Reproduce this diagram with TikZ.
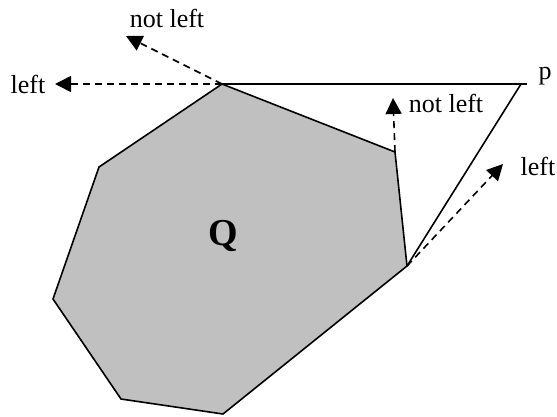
\documentclass[tikz,border=0pt]{standalone}
\usepackage{fontspec}
\setmainfont{Liberation Serif}
\usetikzlibrary{arrows.meta}
\definecolor{polygray}{RGB}{192,192,192}
\tikzset{
  edge/.style={line width=1.6pt, line join=miter},
  probe/.style={line width=1.6pt, dash pattern=on 7pt off 5pt, -{Triangle[length=16pt,width=16pt]}},
  lbl/.style={font=\fontsize{26}{30}\selectfont, inner sep=0pt}
}
\begin{document}
\begin{tikzpicture}[x=1pt,y=-1pt]
\useasboundingbox (0,0) rectangle (557,416);
% polygon vertices
\coordinate (v1) at (222,84);
\coordinate (v2) at (395,152);
\coordinate (v3) at (407,266);
\coordinate (v4) at (223,414);
\coordinate (v5) at (121,399);
\coordinate (v6) at (53,299);
\coordinate (v7) at (99,167);
\coordinate (p) at (521,84);
\coordinate (pend) at (527,84);
% arrow tips
\coordinate (t1) at (55,84);
\coordinate (t2) at (126,36);
\coordinate (t3) at (393,98);
\coordinate (t4) at (503,164);
\fill[polygray] (v1) -- (v2) -- (v3) -- (v4) -- (v5) -- (v6) -- (v7) -- cycle;
\draw[edge] (v1) -- (v2) -- (v3) -- (v4) -- (v5) -- (v6) -- (v7) -- cycle;
\draw[edge] (v1) -- (pend);
\draw[edge] (p) -- (v3);
\draw[probe] (v1) -- (t1);
\draw[probe] (v1) -- (t2);
\draw[probe] (v2) -- (t3);
\draw[probe] (v3) -- (t4);
\node[lbl] (q) at (223,236) {\fontsize{38}{44}\selectfont\bfseries Q};
\node[lbl] (lp) at (545,76) {p};
\node[lbl] (l1) at (28,84) {left};
\node[lbl] (l2) at (167,18) {not left};
\node[lbl] (l3) at (446,103) {not left};
\node[lbl] (l4) at (538,166) {left};
\end{tikzpicture}
\end{document}
